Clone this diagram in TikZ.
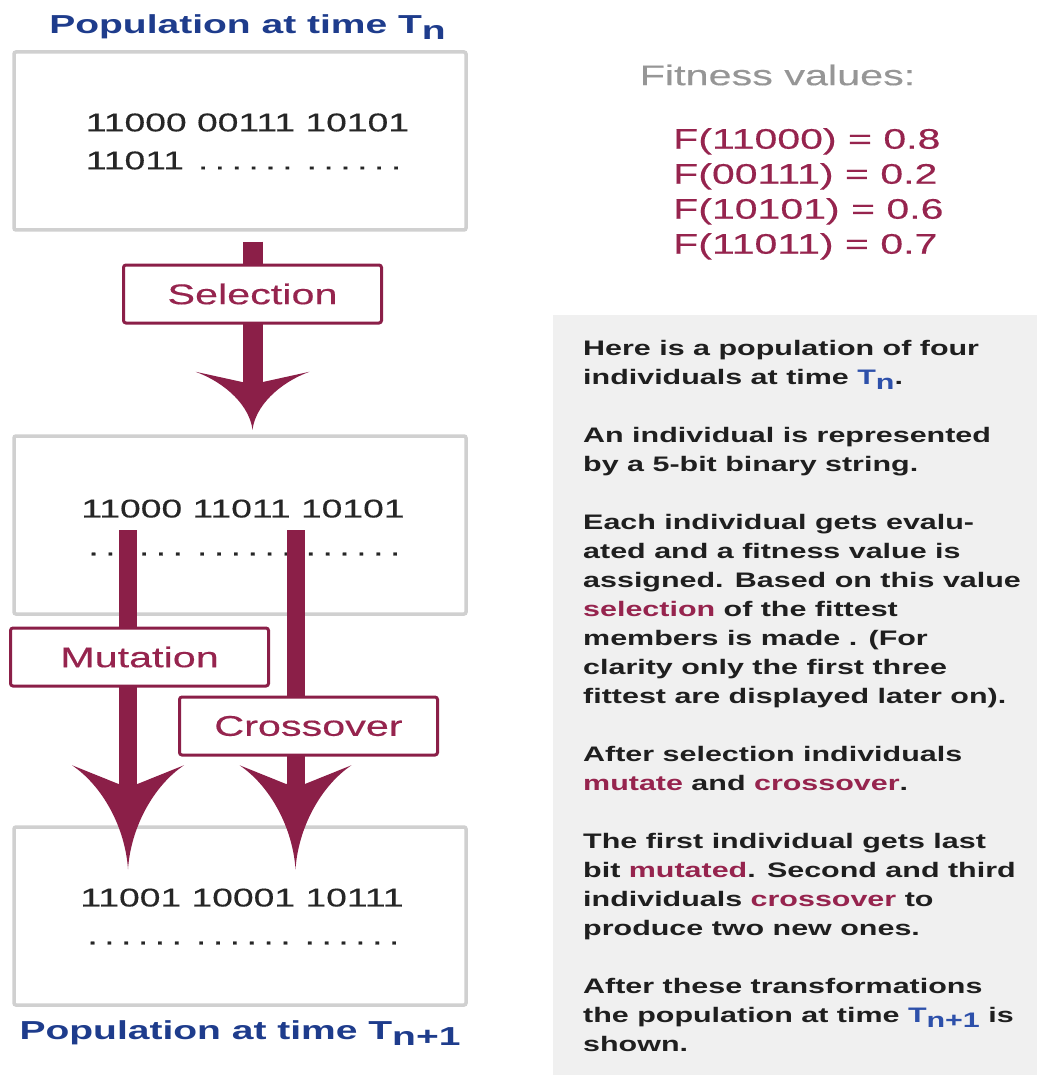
\documentclass[tikz,border=0pt]{standalone}
\usepackage{fontspec}
\setmainfont{Liberation Sans}[FakeStretch=1.45,Ligatures=NoCommon,UprightFeatures={FakeBold=0.4}]
\newfontfamily\titlefont{Liberation Sans}[FakeStretch=1.5,Ligatures=NoCommon]
\usetikzlibrary{positioning}

\definecolor{arrowred}{RGB}{139,31,72}
\definecolor{textred}{RGB}{150,36,78}
\definecolor{popblue}{RGB}{30,60,140}
\definecolor{noteblue}{RGB}{45,80,170}
\definecolor{boxgray}{RGB}{208,208,208}
\definecolor{panelgray}{RGB}{240,240,240}
\definecolor{fitgray}{RGB}{150,150,150}

\newcommand\tsub[1]{T\raisebox{-.22em}{#1}}
\newcommand\redword[1]{\textcolor{textred}{#1}}
\newcommand\dotrun{.\hspace{6.5pt}.\hspace{6.5pt}.\hspace{6.5pt}.\hspace{6.5pt}.\hspace{6.5pt}.}
\newcommand\gap{\hspace{14pt}}

\begin{document}
\begin{tikzpicture}[x=1pt,y=-1pt,
    popbox/.style={draw=boxgray,line width=3.5pt,rounded corners=2pt,
      minimum width=452pt,minimum height=178pt},
    bits/.style={align=left,inner sep=0pt,text=black!85,
      font=\fontsize{25.7}{38}\selectfont},
    oplabel/.style={draw=arrowred,line width=3pt,fill=white,
      rounded corners=2.5pt,minimum width=258pt,minimum height=58pt,
      text=textred,font=\fontsize{28.5}{30}\selectfont},
    poptitle/.style={inner sep=0pt,text=popblue,
      font=\titlefont\bfseries\fontsize{26}{30}\selectfont},
    fatshaft/.style={draw=arrowred,line width=#1},
    pics/barbhead/.style args={#1/#2}{code={
      \fill[arrowred] (0,0) .. controls (-0.05*#2,-0.4*#1) and (-0.45*#2,-0.8*#1) .. (-#2,-#1)
        -- (-9.5,-0.82*#1) -- (9.5,-0.82*#1) -- (#2,-#1)
        .. controls (0.45*#2,-0.8*#1) and (0.05*#2,-0.4*#1) .. (0,0) -- cycle;}}]
\useasboundingbox (0,0) rectangle (1037,1075);
\fill[panelgray] (553,315) rectangle (1037,1075);

% the three populations
\node[popbox] (popn) at (240,141) {};
\node[popbox] (popsel) at (240,525) {};
\node[popbox] (popnext) at (240,916) {};
\node[bits] (bitsn) at (247.5,141.5) {11000 00111 10101\\11011\gap\dotrun\gap\dotrun};
\node[bits] (bitssel) at (243,527.5) {11000 11011 10101\\\hspace*{7pt}\dotrun\gap\dotrun\gap\dotrun};
\node[bits] (bitsnext) at (242,916.5) {11001 10001 10111\\\hspace*{7pt}\dotrun\gap\dotrun\gap\dotrun};
\node[poptitle,above=11pt of popn,xshift=7.5pt] (titlen) {Population at time \tsub{n}};
\node[poptitle,below=14pt of popnext] (titlenext) {Population at time \tsub{n+1}};

% big arrows
\draw[fatshaft=20pt,shorten <=10pt,shorten >=35pt] ([xshift=12.5pt]popn.south) -- ([xshift=12.5pt,yshift=4.5pt]popsel.north);
\path ([xshift=12.5pt,yshift=4.5pt]popsel.north) pic {barbhead=58/57};
\draw[fatshaft=18pt,shorten >=65pt] ([xshift=-112pt,yshift=-5pt]popsel.center) -- ([xshift=-112pt,yshift=-44pt]popnext.north);
\path ([xshift=-112pt,yshift=-44pt]popnext.north) pic {barbhead=104/56};
\draw[fatshaft=18pt,shorten >=65pt] ([xshift=55.5pt,yshift=-5pt]popsel.center) -- ([xshift=55.5pt,yshift=-44pt]popnext.north);
\path ([xshift=55.5pt,yshift=-44pt]popnext.north) pic {barbhead=104/56};

\node[oplabel] (selection) at (252.5,294) {Selection};
\node[oplabel] (mutation) at (139.5,657) {Mutation};
\node[oplabel] (crossover) at (308.5,726) {Crossover};

% fitness values
\node[inner sep=0pt,text=fitgray,font=\fontsize{28.5}{30}\selectfont] (fithead) at (777.5,75) {Fitness values:};
\node[anchor=north west,inner sep=0pt,align=left,text=textred,font=\fontsize{28.3}{35}\selectfont] (fitlist) at (673,128)
  {F(11000) = 0.8\\F(00111) = 0.2\\F(10101) = 0.6\\F(11011) = 0.7};

% explanation
\node[anchor=north west,inner sep=0pt,align=left,text=black!88,font=\bfseries\fontsize{21}{29}\selectfont] (notes) at (583,340)
  {Here is a population of four\\
   individuals at time \textcolor{noteblue}{\tsub{n}}.\\[29pt]
   An individual is represented\\
   by a 5-bit binary string.\\[29pt]
   Each individual gets evalu-\\
   ated and a fitness value is\\
   assigned. Based on this value\\
   \redword{selection} of the fittest\\
   members is made . (For\\
   clarity only the first three\\
   fittest are displayed later on).\\[29pt]
   After selection individuals\\
   \redword{mutate} and \redword{crossover}.\\[29pt]
   The first individual gets last\\
   bit \redword{mutated}. Second and third\\
   individuals \redword{crossover} to\\
   produce two new ones.\\[29pt]
   After these transformations\\
   the population at time \textcolor{noteblue}{\tsub{n+1}} is\\
   shown.};
\end{tikzpicture}
\end{document}
